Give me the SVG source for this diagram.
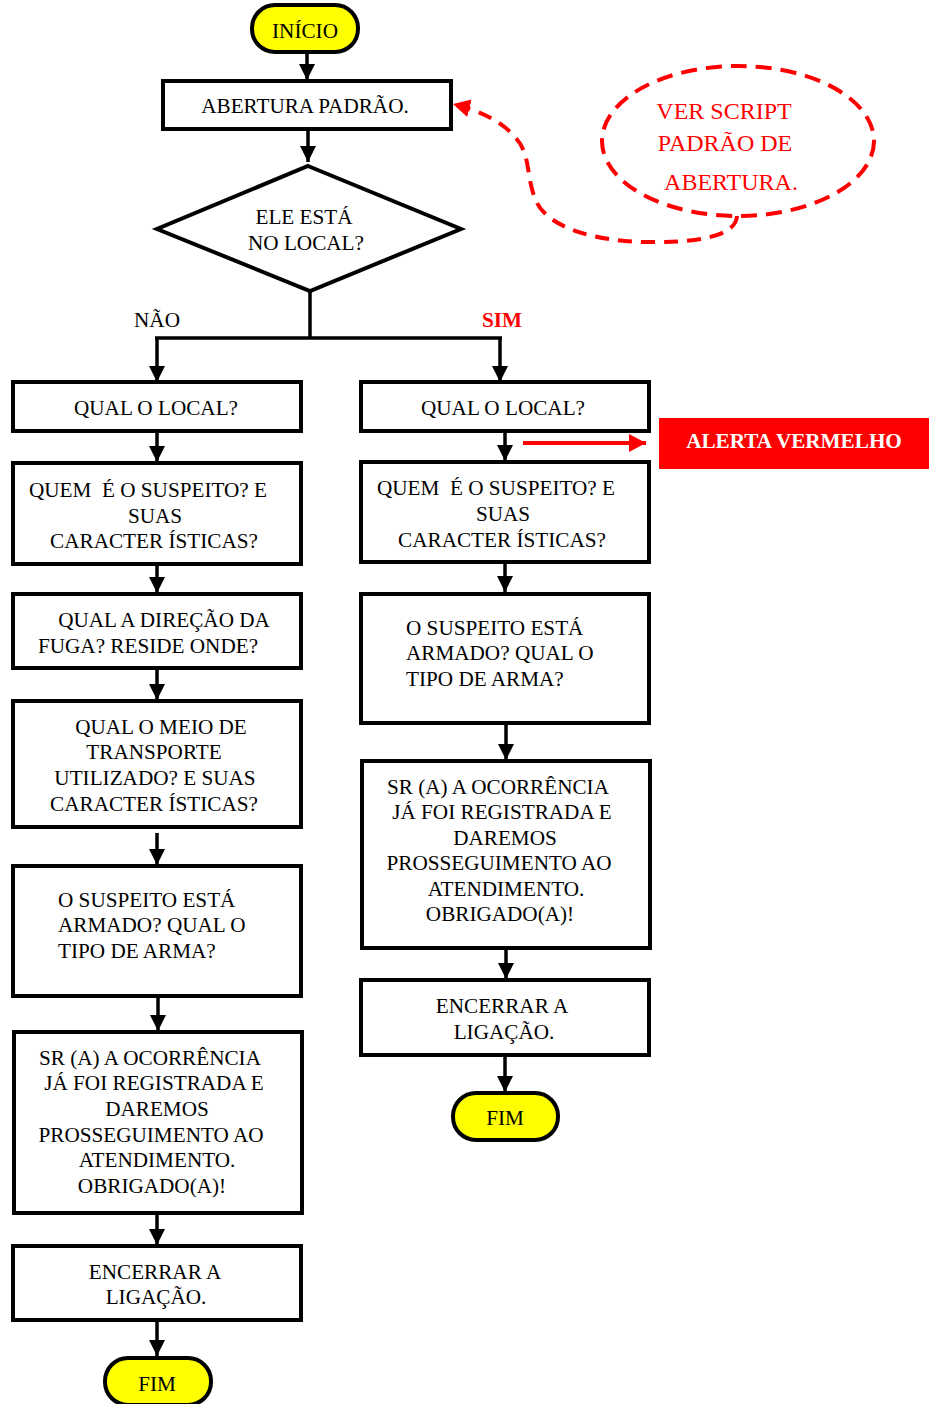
<svg xmlns="http://www.w3.org/2000/svg" width="929" height="1404" viewBox="0 0 929 1404">
<style>
.box{fill:#fff;stroke:#000;stroke-width:4}
.term{fill:#ffff00;stroke:#000;stroke-width:4}
.t{font-family:"Liberation Serif","Times New Roman",serif;font-size:21.2px;fill:#000}
.c{text-anchor:middle}
.red{fill:#ff0000}
.note{font-size:24px}
.conn{stroke:#000;stroke-width:3.5;fill:none}
</style>
<defs>
<marker id="ah" markerUnits="userSpaceOnUse" markerWidth="16" markerHeight="17" refX="16" refY="8" orient="auto">
<path d="M0,0 L16,8 L0,16 z" fill="#000"/>
</marker>
<marker id="ahr" markerUnits="userSpaceOnUse" markerWidth="18" markerHeight="18" refX="17" refY="9" orient="auto">
<path d="M0,0 L17,9 L0,18 z" fill="#ff0000"/>
</marker>
</defs>

<g id="connectors">
<line class="conn" x1="307" y1="52" x2="307" y2="80" marker-end="url(#ah)"/>
<line class="conn" x1="308" y1="129" x2="308" y2="162" marker-end="url(#ah)"/>
<line class="conn" x1="310" y1="291" x2="310" y2="338"/>
<line class="conn" x1="155" y1="338" x2="502" y2="338"/>
<line class="conn" x1="157" y1="338" x2="157" y2="382" marker-end="url(#ah)"/>
<line class="conn" x1="500" y1="338" x2="500" y2="382" marker-end="url(#ah)"/>
<line class="conn" x1="157" y1="431" x2="157" y2="462" marker-end="url(#ah)"/>
<line class="conn" x1="157" y1="564" x2="157" y2="593" marker-end="url(#ah)"/>
<line class="conn" x1="157" y1="668" x2="157" y2="700" marker-end="url(#ah)"/>
<line class="conn" x1="157" y1="833" x2="157" y2="865" marker-end="url(#ah)"/>
<line class="conn" x1="158" y1="996" x2="158" y2="1031" marker-end="url(#ah)"/>
<line class="conn" x1="157" y1="1213" x2="157" y2="1245" marker-end="url(#ah)"/>
<line class="conn" x1="157" y1="1320" x2="157" y2="1356" marker-end="url(#ah)"/>
<line class="conn" x1="505" y1="431" x2="505" y2="461" marker-end="url(#ah)"/>
<line class="conn" x1="505" y1="562" x2="505" y2="592" marker-end="url(#ah)"/>
<line class="conn" x1="506" y1="723" x2="506" y2="760" marker-end="url(#ah)"/>
<line class="conn" x1="506" y1="948" x2="506" y2="979" marker-end="url(#ah)"/>
<line class="conn" x1="505" y1="1055" x2="505" y2="1092" marker-end="url(#ah)"/>
<line x1="523" y1="443" x2="646" y2="443" stroke="#ff0000" stroke-width="4" marker-end="url(#ahr)"/>
<path d="M737,216 C736,238 690,243 645,242 C595,241 550,228 537,203 C525,178 532,155 515,137 C500,120 480,111 453,104" fill="none" stroke="#ff0000" stroke-width="4" stroke-dasharray="14,9" marker-end="url(#ahr)"/>
</g>

<g id="inicio">
<rect class="term" x="252" y="5" width="106" height="47" rx="23" ry="23"/>
<text class="t c" x="305" y="38">INÍCIO</text>
</g>

<g id="abertura">
<rect class="box" x="163" y="81" width="288" height="48"/>
<text class="t c" x="305" y="113">ABERTURA PADRÃO.</text>
</g>

<g id="nota">
<ellipse cx="738" cy="141" rx="136" ry="75" fill="none" stroke="#ff0000" stroke-width="4" stroke-dasharray="16,9"/>
<text class="t c red note" x="724" y="119">VER SCRIPT</text>
<text class="t c red note" x="725" y="151">PADRÃO DE</text>
<text class="t c red note" x="731" y="190">ABERTURA.</text>
</g>

<g id="decisao">
<polygon points="308,166 461,229 310,291 157,229" fill="#fff" stroke="#000" stroke-width="4"/>
<text class="t c" x="304" y="224">ELE ESTÁ</text>
<text class="t c" x="306" y="250">NO LOCAL?</text>
</g>

<g id="labels">
<text class="t c" x="157" y="327">NÃO</text>
<text class="t c red" style="font-weight:bold" x="502" y="327">SIM</text>
</g>

<g id="l-local">
<rect class="box" x="13" y="382" width="288" height="49"/>
<text class="t c" x="156" y="415">QUAL O LOCAL?</text>
</g>
<g id="l-quem">
<rect class="box" x="13" y="463" width="288" height="101"/>
<text class="t c" x="148" y="497" xml:space="preserve">QUEM  É O SUSPEITO? E</text>
<text class="t c" x="155" y="523">SUAS</text>
<text class="t c" x="154" y="548">CARACTER ÍSTICAS?</text>
</g>
<g id="l-direcao">
<rect class="box" x="13" y="594" width="288" height="74"/>
<text class="t c" x="164" y="627">QUAL A DIREÇÃO DA</text>
<text class="t c" x="148" y="653">FUGA? RESIDE ONDE?</text>
</g>
<g id="l-meio">
<rect class="box" x="13" y="701" width="288" height="126"/>
<text class="t c" x="161" y="734">QUAL O MEIO DE</text>
<text class="t c" x="154" y="759">TRANSPORTE</text>
<text class="t c" x="155" y="785">UTILIZADO? E SUAS</text>
<text class="t c" x="154" y="811">CARACTER ÍSTICAS?</text>
</g>
<g id="l-armado">
<rect class="box" x="13" y="866" width="288" height="130"/>
<text class="t" x="58" y="907">O SUSPEITO ESTÁ</text>
<text class="t" x="58" y="932">ARMADO? QUAL O</text>
<text class="t" x="58" y="958">TIPO DE ARMA?</text>
</g>
<g id="l-sr">
<rect class="box" x="14" y="1032" width="288" height="181"/>
<text class="t c" x="150" y="1065">SR (A) A OCORRÊNCIA</text>
<text class="t c" x="154" y="1090">JÁ FOI REGISTRADA E</text>
<text class="t c" x="157" y="1116">DAREMOS</text>
<text class="t c" x="151" y="1142">PROSSEGUIMENTO AO</text>
<text class="t c" x="157" y="1167">ATENDIMENTO.</text>
<text class="t c" x="152" y="1193">OBRIGADO(A)!</text>
</g>
<g id="l-encerrar">
<rect class="box" x="13" y="1246" width="288" height="74"/>
<text class="t c" x="155" y="1279">ENCERRAR A</text>
<text class="t c" x="156" y="1304">LIGAÇÃO.</text>
</g>
<g id="l-fim">
<rect class="term" x="105" y="1358" width="106" height="47" rx="23" ry="23"/>
<text class="t c" x="157" y="1391">FIM</text>
</g>

<g id="r-local">
<rect class="box" x="361" y="382" width="288" height="49"/>
<text class="t c" x="503" y="415">QUAL O LOCAL?</text>
</g>
<g id="alerta">
<rect x="659" y="418" width="270" height="51" fill="#ff0000"/>
<text class="t c" style="fill:#fff;font-weight:bold" x="794" y="448">ALERTA VERMELHO</text>
</g>
<g id="r-quem">
<rect class="box" x="361" y="462" width="288" height="100"/>
<text class="t c" x="496" y="495" xml:space="preserve">QUEM  É O SUSPEITO? E</text>
<text class="t c" x="503" y="521">SUAS</text>
<text class="t c" x="502" y="547">CARACTER ÍSTICAS?</text>
</g>
<g id="r-armado">
<rect class="box" x="361" y="594" width="288" height="129"/>
<text class="t" x="406" y="635">O SUSPEITO ESTÁ</text>
<text class="t" x="406" y="660">ARMADO? QUAL O</text>
<text class="t" x="406" y="686">TIPO DE ARMA?</text>
</g>
<g id="r-sr">
<rect class="box" x="362" y="761" width="288" height="187"/>
<text class="t c" x="498" y="794">SR (A) A OCORRÊNCIA</text>
<text class="t c" x="502" y="819">JÁ FOI REGISTRADA E</text>
<text class="t c" x="505" y="845">DAREMOS</text>
<text class="t c" x="499" y="870">PROSSEGUIMENTO AO</text>
<text class="t c" x="506" y="896">ATENDIMENTO.</text>
<text class="t c" x="500" y="921">OBRIGADO(A)!</text>
</g>
<g id="r-encerrar">
<rect class="box" x="361" y="980" width="288" height="75"/>
<text class="t c" x="502" y="1013">ENCERRAR A</text>
<text class="t c" x="504" y="1039">LIGAÇÃO.</text>
</g>
<g id="r-fim">
<rect class="term" x="453" y="1093" width="105" height="47" rx="23" ry="23"/>
<text class="t c" x="505" y="1125">FIM</text>
</g>
</svg>
